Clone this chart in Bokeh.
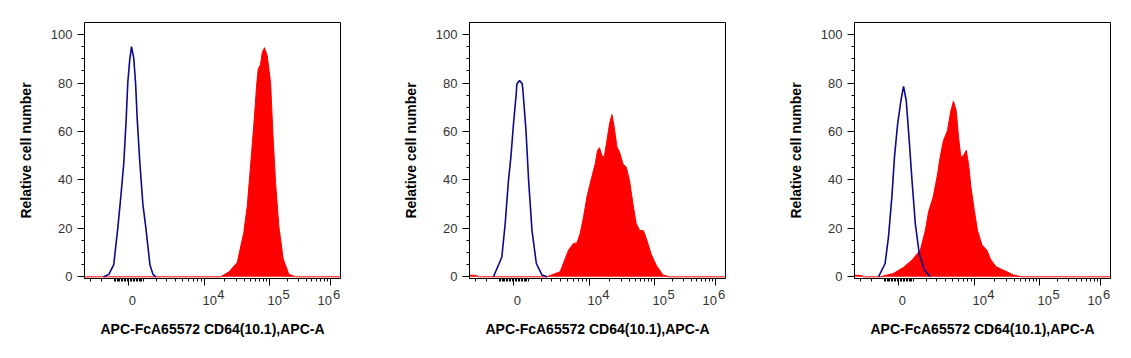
import numpy as np
from bokeh.plotting import figure
from bokeh.layouts import row
from bokeh.models import FixedTicker, Range1d, LinearAxis, CustomJSTickFormatter
from bokeh.embed import file_html
from bokeh.resources import INLINE

# ---------------- data (fluorescence intensity, relative cell number) ----------------
b1_x = [-1810, -1400, -1040, -755, -545, -340, -178, -70, 68, 185, 340, 460, 574, 755, 970, 1190, 1490, 1730, 1970]
b1_y = [0, 1, 5, 20, 33, 47, 65, 80, 90, 95, 90, 80, 65, 47, 30, 20, 5, 1, 0]

r1_x = [-4000, 17200, 22900, 30800, 39000, 44200, 49800, 57600, 62100, 65900, 71900, 76600, 83400,
        92300, 104500, 113800, 125900, 142400, 168200, 207700, 268000, 1600000]
r1_y = [0, 0, 2, 5.9, 18.3, 29.3, 45.8, 66.4, 78.8, 85.7, 87.7, 92.6, 94.6,
        91.2, 80.2, 59.6, 38.9, 21, 7.3, 1.1, 0, 0]

b2_x = [-1430, -820, -587, -362, -198, -20, 164, 212, 389, 574, 622, 835, 1022, 1268, 1600, 2063, 2511]
b2_y = [0, 8.2, 22, 39.8, 49.4, 63.2, 75.6, 79.7, 81, 79.7, 76.9, 60.4, 39.8, 19.2, 5.5, 0.7, 0]

r2_x = [-4000, -2900, -2700, 2480, 3950, 5150, 6040, 6730, 7460, 8300, 9270, 10550, 12160, 13130,
        14030, 15210, 16440, 18030, 19720, 21430, 23230, 25530, 27980, 31550, 35560, 40000,
        45290, 51040, 57660, 66700, 75700, 87900, 107100, 137700, 181100, 1600000]
r2_y = [0.8, 0.5, 0, 0, 2.1, 11, 13.8, 14, 17.9, 24.7, 33, 39.8, 46.7, 52.2,
        53.3, 50.1, 49.4, 56.3, 63.2, 67, 61.8, 53.6, 51.5, 46.7, 45.3, 39.8,
        30.2, 22, 19.2, 19, 15.1, 9.6, 4.8, 0.7, 0, 0]

b3_x = [-1430, -943, -705, -471, -294, -89, 143, 321, 505, 712, 907, 1145, 1438, 1844, 2355]
b3_y = [0, 5.5, 16.5, 33, 49.4, 62.5, 72.8, 78.6, 72.8, 56.3, 39.8, 22, 9.6, 2.8, 0]

r3_x = [-4000, -2900, -2700, -1304, -362, 321, 907, 1519, 1925, 2194, 2619, 3010, 3346, 3729,
        4251, 4745, 5150, 5610, 6040, 6510, 7080, 7710, 8300, 8980, 10000, 11110, 12880,
        15210, 17440, 20940, 25530, 30480, 38640, 52360, 1600000]
r3_y = [0.8, 0.5, 0, 0, 1.4, 3.9, 6.9, 11, 19.2, 26.8, 33, 41.2, 49.4, 56.3,
        60.4, 68.7, 72.5, 68.7, 57.7, 49.4, 50.1, 52.2, 46.7, 37.1, 27.5, 19.2, 13.1,
        11, 6.9, 4.1, 3, 2.1, 0.7, 0, 0]

panels = [(b1_x, b1_y, r1_x, r1_y), (b2_x, b2_y, r2_x, r2_y), (b3_x, b3_y, r3_x, r3_y)]

x_label = "APC-FcA65572 CD64(10.1),APC-A"
y_label = "Relative cell number"
y_ticks = [0, 20, 40, 60, 80, 100]
x_labeled = [0, 1e4, 1e5, 1e6]
x_base_text = ["0", "10", "10", "10"]
x_exp_text = ["4", "5", "6"]

# ---------------- logicle-like display transform ----------------
P_LOG = 3.0
K_LOG = 441.0
_ug = np.linspace(0, 5, 50001)
_xg = K_LOG * (10 ** _ug - P_LOG ** 2 * 10 ** (-_ug / P_LOG) + P_LOG ** 2 - 1)


def fwd(x):
    x = np.asarray(x, dtype=float)
    return np.sign(x) * np.interp(np.abs(x), _xg, _ug)


X_LO, X_HI = -3690, 1.49e6
U_LO, U_HI = float(fwd(X_LO)), float(fwd(X_HI))
FRAME = 256
PPU = FRAME / (U_HI - U_LO)  # pixels per display unit

minor_vals = []
for dec in [100, 1000, 10000, 100000]:
    for k in range(1 if dec == 100 else 2, 10):
        minor_vals.append(k * dec)
minor_vals.append(1000)
minor_all = sorted([-v for v in minor_vals] + minor_vals)
minor_all = [v for v in minor_all if X_LO < v < X_HI]

FONT = "Liberation Sans"
RED = "#ff0000"
BLUE = "#0a0a8c"
TICK_COLOR = "#333333"

# label text padding (figure/punctuation spaces) so that labels start at their tick
FSP, PSP = "\u2007", "\u2008"
base_labels = [FSP + x_base_text[0], FSP + PSP + x_base_text[1], FSP + PSP + x_base_text[2],
               x_base_text[3] + FSP + PSP]
exp_shift_px = [16.6, 16.6, 6.5]


def make_panel(bx, by, rx, ry, b_left, b_right, b_top, b_bottom):
    p = figure(frame_width=FRAME, frame_height=256, output_backend="svg", toolbar_location=None,
               x_range=Range1d(U_LO, U_HI), y_range=Range1d(-0.7, 105),
               min_border_left=b_left, min_border_right=b_right,
               min_border_top=b_top, min_border_bottom=b_bottom,
               background_fill_color="white", border_fill_color="white")
    p.outline_line_color = "black"
    p.outline_line_width = 1
    p.grid.visible = False

    ru = fwd(rx)
    p.varea(x=ru, y1=np.zeros(len(ru)), y2=ry, fill_color=RED, fill_alpha=1.0)
    p.line(x=ru, y=ry, line_color=RED, line_width=1)
    p.line(x=fwd(bx), y=by, line_color=BLUE, line_width=1.6)

    # axis A: tick marks + base labels ("0", "10")
    xa = p.xaxis[0]
    xa.ticker = FixedTicker(ticks=[float(v) for v in fwd(x_labeled)],
                            minor_ticks=[float(v) for v in fwd(minor_all)])
    xa.formatter = CustomJSTickFormatter(args=dict(labels=base_labels), code="return labels[index];")
    xa.major_label_text_font = FONT
    xa.major_label_text_font_size = "13px"
    xa.major_label_text_color = TICK_COLOR
    xa.major_label_standoff = 7
    xa.major_tick_in = 0
    xa.major_tick_out = 7
    xa.minor_tick_in = 0
    xa.minor_tick_out = 3
    xa.axis_line_color = "black"

    # axis B: exponents (no ticks, no line) + axis title
    exp_pos = [float(fwd(v)) + s / PPU for v, s in zip(x_labeled[1:], exp_shift_px)]
    xb = LinearAxis(ticker=FixedTicker(ticks=exp_pos, minor_ticks=[]),
                    formatter=CustomJSTickFormatter(args=dict(labels=x_exp_text),
                                                    code="return labels[index];"))
    xb.axis_line_color = None
    xb.major_tick_in = 0
    xb.major_tick_out = 0
    xb.minor_tick_in = 0
    xb.minor_tick_out = 0
    xb.major_label_text_font = FONT
    xb.major_label_text_font_size = "13px"
    xb.major_label_text_color = TICK_COLOR
    xb.major_label_standoff = -21
    xb.axis_label = x_label
    xb.axis_label_text_font = FONT
    xb.axis_label_text_font_style = "bold"
    xb.axis_label_text_font_size = "14px"
    xb.axis_label_text_color = "black"
    xb.axis_label_standoff = 19
    p.add_layout(xb, "below")

    ya = p.yaxis[0]
    ya.ticker = FixedTicker(ticks=y_ticks, minor_ticks=[v for v in range(5, 101, 5) if v % 20])
    ya.major_tick_in = 0
    ya.major_tick_out = 7
    ya.minor_tick_in = 0
    ya.minor_tick_out = 3
    ya.major_label_text_font = FONT
    ya.major_label_text_font_size = "13px"
    ya.major_label_text_color = TICK_COLOR
    ya.major_label_standoff = 5
    ya.axis_label = y_label
    ya.axis_label_text_font = FONT
    ya.axis_label_text_font_style = "bold"
    ya.axis_label_text_font_size = "14px"
    ya.axis_label_text_color = "black"
    ya.axis_label_standoff = 14
    ya.axis_line_color = "black"
    return p


cfg = [(84, 53, 20, 74), (76, 53, 22, 72), (76, 21, 22, 72)]
figs = [make_panel(*d, *c) for d, c in zip(panels, cfg)]

layout = row(*figs)
open("out.html", "w").write(file_html(layout, INLINE))
